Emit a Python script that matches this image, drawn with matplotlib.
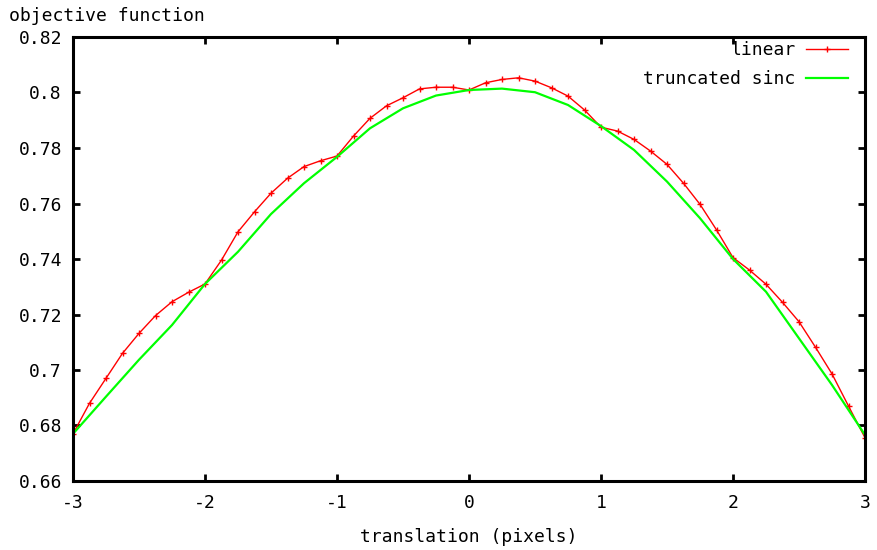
import numpy as np
import matplotlib
matplotlib.use("Agg")
import matplotlib.pyplot as plt

# Objective function vs. sub-pixel translation for two interpolation schemes
linear_x = np.arange(-3.0, 3.0001, 0.125)
linear_y = [
    0.6770, 0.6880, 0.6970, 0.7060, 0.7132, 0.7196, 0.7246, 0.7280,
    0.7310, 0.7396, 0.7498, 0.7570, 0.7637, 0.7691, 0.7733, 0.7754,
    0.7771, 0.7843, 0.7907, 0.7952, 0.7981, 0.8013, 0.8019, 0.8019,
    0.8009, 0.8035, 0.8047, 0.8053, 0.8041, 0.8017, 0.7987, 0.7937,
    0.7875, 0.7861, 0.7831, 0.7789, 0.7741, 0.7673, 0.7597, 0.7505,
    0.7405, 0.7360, 0.7309, 0.7244, 0.7174, 0.7082, 0.6986, 0.6870,
    0.6756,
]

sinc_x = np.arange(-3.0, 3.0001, 0.25)
sinc_y = [
    0.6770, 0.6904, 0.7037, 0.7162, 0.7310, 0.7426, 0.7562, 0.7673,
    0.7768, 0.7871, 0.7943, 0.7989, 0.8009, 0.8014, 0.8001, 0.7955,
    0.7879, 0.7793, 0.7679, 0.7547, 0.7400, 0.7282, 0.7114, 0.6946,
    0.6766,
]

x_ticks = [-3, -2, -1, 0, 1, 2, 3]
y_ticks = [0.66, 0.68, 0.70, 0.72, 0.74, 0.76, 0.78, 0.80, 0.82]
y_tick_labels = ["0.66", "0.68", "0.7", "0.72", "0.74", "0.76", "0.78", "0.8", "0.82"]

W, H = 877, 550
plt.rcParams["font.family"] = ["DejaVu Sans Mono"]
fig = plt.figure(figsize=(W / 100, H / 100), dpi=100)
ax = fig.add_axes([73 / W, 1 - 481 / H, (865 - 73) / W, (481 - 37) / H])

ax.plot(linear_x, linear_y, color="#ff0000", lw=1.0, marker="+", ms=5,
        mew=1.0, label="linear")
ax.plot(sinc_x, sinc_y, color="#00ff00", lw=1.6, label="truncated sinc")

ax.set_xlim(-3, 3)
ax.set_ylim(0.66, 0.82)
ax.set_xticks(x_ticks)
ax.set_xticklabels([str(t) for t in x_ticks])
ax.set_yticks(y_ticks)
ax.set_yticklabels(y_tick_labels)
ax.tick_params(direction="in", length=5, width=2, labelsize=13,
               top=True, right=True, colors="black")
ax.tick_params(axis="x", pad=9)
ax.tick_params(axis="y", pad=8)
for s in ax.spines.values():
    s.set_linewidth(2.2)
    s.set_color("black")

fig.text(9 / W, 1 - 16 / H, "objective function", fontsize=13,
         ha="left", va="center")
fig.text(469 / W, 1 - 537 / H, "translation (pixels)", fontsize=13,
         ha="center", va="center")

leg = ax.legend(loc="upper right", bbox_to_anchor=(848 / W, 1 - 41 / H),
                bbox_transform=fig.transFigure, frameon=False, fontsize=13,
                markerfirst=False, handlelength=2.3, handletextpad=0.6,
                borderpad=0, borderaxespad=0, labelspacing=0.6)
for col in leg._legend_handle_box.get_children():
    col.align = "right"

fig.savefig("out.png", dpi=100)
